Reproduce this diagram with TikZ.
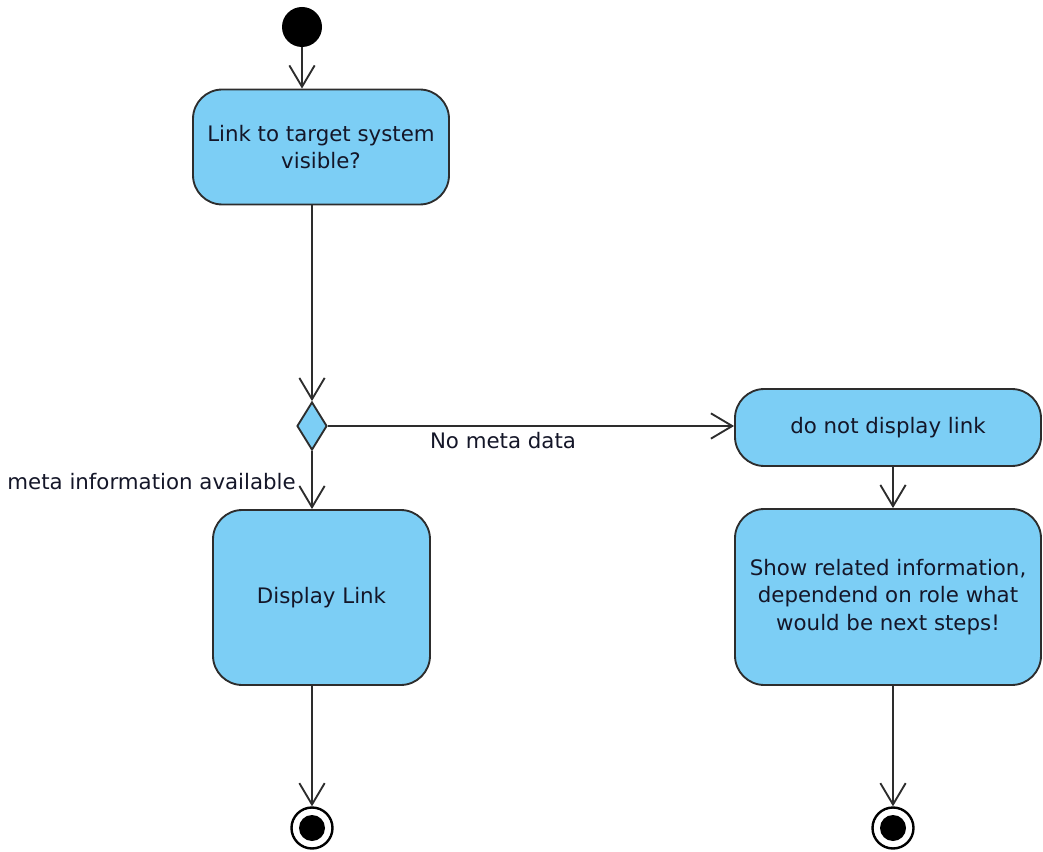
\documentclass[tikz,border=0pt]{standalone}
\usepackage{fontspec}
\setmainfont{DejaVu Sans}
\usetikzlibrary{arrows.meta,shapes.geometric,positioning}
\definecolor{actblue}{RGB}{124,206,245}
\definecolor{linegray}{RGB}{45,45,45}
\definecolor{textnavy}{RGB}{20,22,40}

\begin{document}
\begin{tikzpicture}[x=0.75pt,y=0.75pt,yscale=-1,xscale=1,
	action/.style={draw=linegray, fill=actblue, line width=1.4pt, rounded corners=22pt, align=center, inner sep=0pt, text=textnavy, font=\fontsize{16}{20.6}\selectfont},
	decision/.style={diamond, draw=linegray, fill=actblue, line width=1.4pt, inner sep=0pt, minimum width=22.5pt, minimum height=36pt},
	startnode/.style={circle, fill=black, inner sep=0pt, minimum size=30pt},
	endnode/.style={circle, draw=black, line width=1.8pt, inner sep=0pt, minimum size=30.75pt, path picture={\fill[black] (path picture bounding box.center) circle (9.75pt);}},
	flow/.style={draw=linegray, line width=1.4pt, -{Straight Barb[length=16pt,width=19pt]}},
	guard/.style={inner sep=0pt, text=textnavy, font=\fontsize{16}{18}\selectfont}
	]
				\useasboundingbox (0,0) rectangle (1043,852);
				
				% Start and end points
				\node [startnode] (start) at (302,27) {};
				\node [endnode] (end1) at (312,828) {};
				\node [endnode] (end2) at (893,828) {};
				
				% Actions
				\node [action, minimum width=192pt, minimum height=86.25pt] (check) at (321,147) {Link to target system\\visible?};
				\node [decision] (meta) at (312,426) {};
				\node [action, minimum width=229.5pt, minimum height=57.75pt] (nolink) at (888,427.5) {do not display link};
				\node [action, minimum width=162.75pt, minimum height=131.25pt] (display) at (321.5,597.5) {Display Link};
				\node [action, minimum width=229.5pt, minimum height=132pt] (related) at (888,597) {Show related information,\\dependend on role what\\would be next steps!};
				
				% Flows
				\draw [flow] (start) -- (start |- check.north);
				\draw [flow] (meta |- check.south) -- (meta.north);
				\draw [flow] (meta.east) -- (meta.east -| nolink.west);
				\draw [flow] (meta.south) -- (meta |- display.north);
				\draw [flow] (end2 |- nolink.south) -- (end2 |- related.north);
				\draw [flow] (end1 |- display.south) -- (end1);
				\draw [flow] (end2 |- related.south) -- (end2);
				
				% Guards
				\node [guard] (nometa) at (503,441) {No meta data};
				\node [guard, anchor=east] (available) at (296,482) {meta information available};
				
\end{tikzpicture}
\end{document}
